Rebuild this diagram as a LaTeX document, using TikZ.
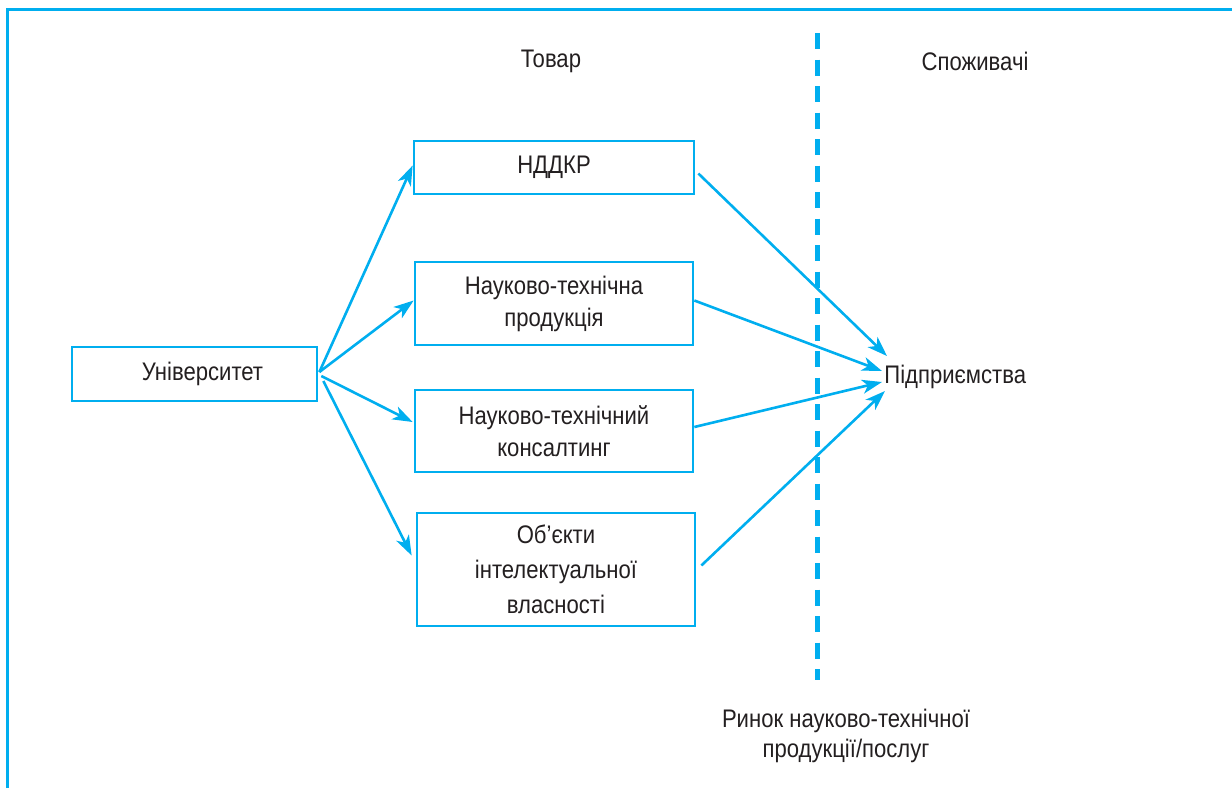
\documentclass[tikz,border=0pt]{standalone}
\usepackage{fontspec}
\setmainfont{Liberation Sans}[FakeStretch=0.87]
\usetikzlibrary{arrows.meta,calc}
\definecolor{cyanline}{RGB}{0,174,239}
\definecolor{textgray}{RGB}{35,31,32}

\begin{document}
\begin{tikzpicture}[
        x=0.5pt, y=-0.5pt,
        >={Stealth[length=10pt,width=7pt,inset=2.8pt]},
        font=\fontsize{12.7}{16}\selectfont,
        text=textgray,
        every node/.style={align=center},
        box/.style={draw=cyanline, line width=1.35pt, inner sep=0pt},
        link/.style={->, draw=cyanline, line width=1.3pt}
    ]

        \useasboundingbox (0,0) rectangle (1232,788);

        % --- Rahmen ---
        \draw[cyanline, line width=1.6pt] (7.5,788) -- (7.5,9.5) -- (1232,9.5);

        % --- Trennlinie (Markt) ---
        \coordinate (divtop) at (817,33);
        \coordinate (divbot) at (817,680);
        \draw[cyanline, line width=2.5pt, dash pattern=on 8pt off 5.25pt] (divtop) -- (divbot);

        % --- Header ---
        \node (goods) at (551,61) {Товар};
        \node (consumers) at (975,61) {Споживачі};
        \node[font=\fontsize{12.7}{15}\selectfont] (market) at (846,736)
            {Ринок науково-технічної\\продукції/послуг};

        % --- Boxen ---
        \node[box, minimum width=122.5pt, minimum height=27pt] (univ) at (194.5,374)
            {\hspace*{8pt}Університет};
        \node[box, minimum width=140pt, minimum height=26.5pt] (nddkr) at (554,167.5) {НДДКР};
        \node[box, minimum width=139pt, minimum height=41.5pt] (product) at (554,303.5)
            {Науково-технічна\\продукція};
        \node[box, minimum width=139pt, minimum height=41pt] (consult) at (554,431)
            {Науково-технічний\\консалтинг};
        \node[box, minimum width=139pt, minimum height=56.5pt,
              font=\fontsize{12.7}{17.5}\selectfont] (ip) at (556,569.5)
            {Об’єкти\\інтелектуальної\\власності};

        % --- Verbraucher ---
        \node[anchor=west, inner sep=0pt] (firm) at (884,377) {Підприємства};

        % --- Pfeile: Universitaet -> Ware ---
        \draw[link] ($(univ.east)+(1,-2)$) -- ($(nddkr.west)+(0,-2)$);
        \draw[link] ($(univ.east)+(1,-2)$) -- ($(product.west)+(0,-3)$);
        \draw[link] ($(univ.east)+(3,2)$) -- ($(consult.west)+(-1,-9)$);
        \draw[link] ($(univ.east)+(5,7)$) -- ($(ip.west)+(-4,-14)$);

        % --- Pfeile: Ware -> Unternehmen ---
        \draw[link] ($(nddkr.east)+(3,6)$) -- ($(firm.west)+(3,-21)$);
        \draw[link] ($(product.east)+(0,-3)$) -- ($(firm.west)+(-2,-6)$);
        \draw[link] ($(consult.east)+(0,-4)$) -- ($(firm.west)+(-2,5)$);
        \draw[link] ($(ip.east)+(5,-4)$) -- ($(firm.west)+(1,14)$);

    \end{tikzpicture}
\end{document}
